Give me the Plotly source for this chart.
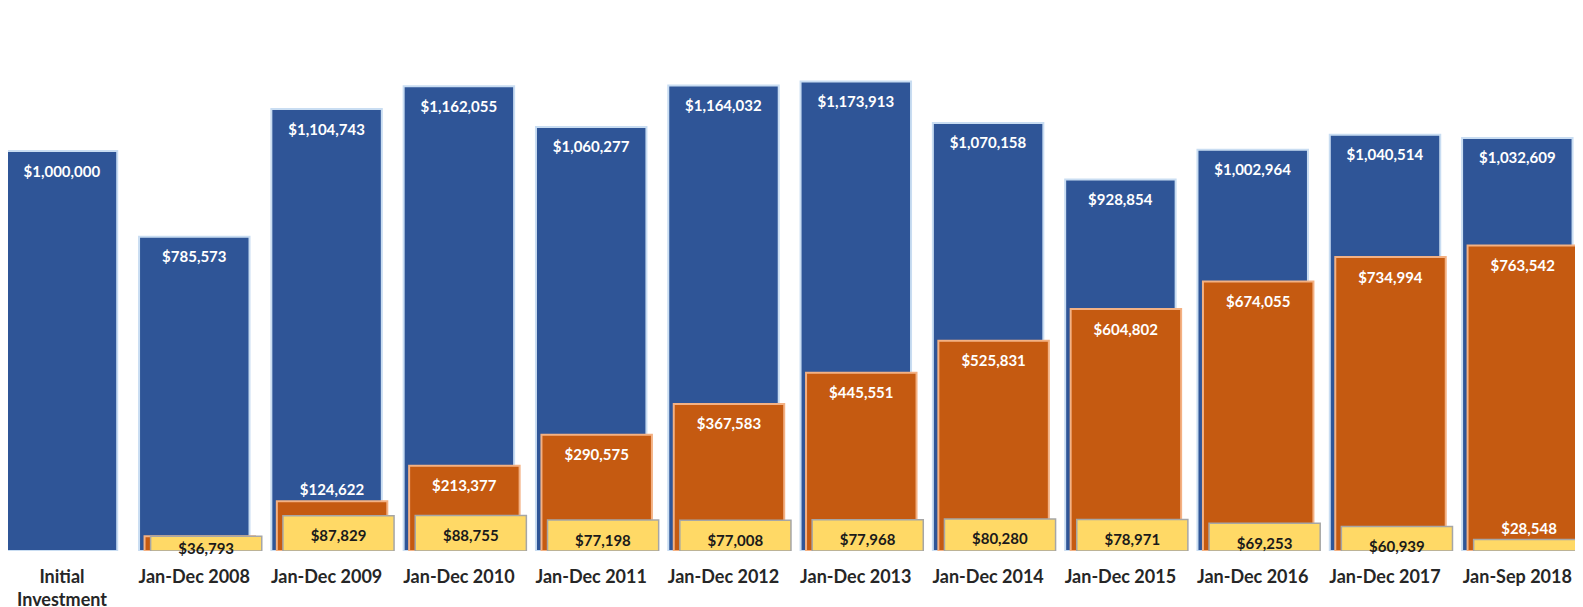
import plotly.graph_objects as go

categories = ["Initial<br>Investment", "Jan-Dec 2008", "Jan-Dec 2009", "Jan-Dec 2010",
              "Jan-Dec 2011", "Jan-Dec 2012", "Jan-Dec 2013", "Jan-Dec 2014",
              "Jan-Dec 2015", "Jan-Dec 2016", "Jan-Dec 2017", "Jan-Sep 2018"]
total_value = [1000000, 785573, 1104743, 1162055, 1060277, 1164032, 1173913,
               1070158, 928854, 1002964, 1040514, 1032609]
cumulative_income = [None, 36793, 124622, 213377, 290575, 367583, 445551,
                     525831, 604802, 674055, 734994, 763542]
annual_income = [None, 36793, 87829, 88755, 77198, 77008, 77968,
                 80280, 78971, 69253, 60939, 28548]

FONT = "Lato"
BLUE = "#2F5597"
ORANGE = "#C55A11"
YELLOW = "#FFD966"
# small transparent first line that pushes inside labels a little lower, like the reference
SPACER = "<span style='font-size:3px;color:rgba(0,0,0,0)'>.</span><br>"


def fmt(v, spacer=True):
    if v is None:
        return ""
    return (SPACER if spacer else "") + f"${v:,}"


n = len(categories)

total_text = [fmt(v) for v in total_value]

cum_text = [fmt(v) for v in cumulative_income]
cum_text[1] = ""  # hidden behind the yellow bar in the reference
cum_text[2] = fmt(cumulative_income[2], spacer=False)
cum_pos = ["inside"] * n
cum_pos[2] = "outside"

ann_text = [fmt(v) for v in annual_income]
ann_text[1] = fmt(annual_income[1], spacer=False)
ann_text[-1] = fmt(annual_income[-1], spacer=False)
ann_pos = ["inside"] * (n - 1) + ["outside"]
ann_color = ["#1a1a1a"] * (n - 1) + ["white"]

fig = go.Figure()
fig.add_trace(go.Bar(
    x=categories, y=total_value, width=0.835, offset=-0.4175,
    marker=dict(color=BLUE, line=dict(color="#C9DDF2", width=2)),
    text=total_text, textposition="inside", insidetextanchor="end",
    textfont=dict(family=FONT, size=15, color="white", weight="bold"),
    constraintext="none", hoverinfo="skip",
))
fig.add_trace(go.Bar(
    x=categories, y=cumulative_income, width=0.835, offset=-0.376,
    marker=dict(color=ORANGE, line=dict(color="#F4B183", width=2)),
    text=cum_text, textposition=cum_pos, insidetextanchor="end",
    textfont=dict(family=FONT, size=15, color="white", weight="bold"),
    outsidetextfont=dict(family=FONT, size=15, color="white", weight="bold"),
    constraintext="none", cliponaxis=False, hoverinfo="skip",
))
fig.add_trace(go.Bar(
    x=categories, y=annual_income, width=0.84, offset=-0.330,
    marker=dict(color=YELLOW, line=dict(color="#A6A6A6", width=1.5)),
    text=ann_text, textposition=ann_pos, insidetextanchor="end",
    textfont=dict(family=FONT, size=15, color=ann_color, weight="bold"),
    outsidetextfont=dict(family=FONT, size=15, color="white", weight="bold"),
    constraintext="none", cliponaxis=False, hoverinfo="skip",
))

fig.update_layout(
    width=1567, height=607,
    barmode="overlay",
    showlegend=False,
    plot_bgcolor="white", paper_bgcolor="white",
    margin=dict(l=0, r=0, t=0, b=64),
    xaxis=dict(range=[-0.408, 11.436], showgrid=False, zeroline=False,
               showline=False, ticks="", ticklabelstandoff=13, automargin=False,
               tickfont=dict(family=FONT, size=18, color="#262626", weight="bold")),
    yaxis=dict(range=[0, 1357500], visible=False, automargin=False),
)

fig.write_html("out.html")
